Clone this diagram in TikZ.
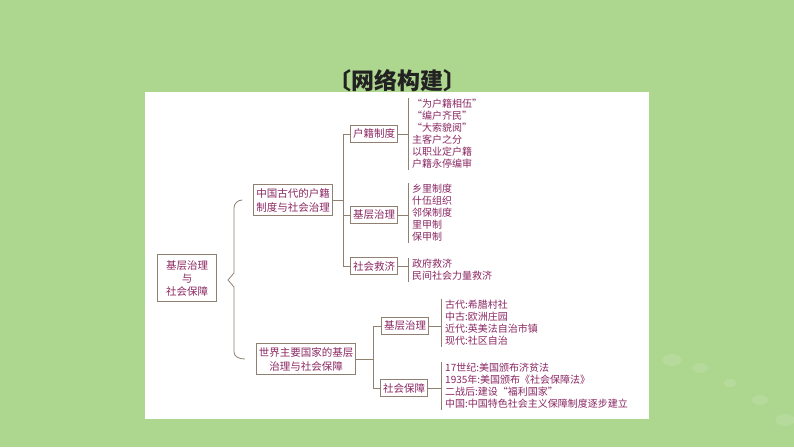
\documentclass[tikz,border=0pt]{standalone}
\usepackage{fontspec}
\setmainfont{Noto Sans CJK SC}
\usetikzlibrary{positioning}
\definecolor{bggreen}{HTML}{ADD68F}
\definecolor{plum}{HTML}{8A2762}
\definecolor{boxline}{HTML}{8F8072}
\definecolor{titlegray}{HTML}{222222}
\tikzset{
  mapbox/.style={draw=boxline, line width=0.8pt, fill=white, text=plum,
    font={\fontsize{10.5}{14}\selectfont}, inner xsep=2.5pt, inner ysep=3.5pt,
    minimum height=17pt, align=center},
  leaflist/.style={anchor=west, text=plum, font={\fontsize{10}{12}\selectfont},
    inner xsep=4pt, inner ysep=1pt, align=left},
  link/.style={draw=boxline, line width=0.8pt}
}

\begin{document}
\begin{tikzpicture}[x=1pt,y=-1pt]
% background and panel
\fill[bggreen] (0,0) rectangle (794,447);
\useasboundingbox (0,0) rectangle (794,447);
\fill[white] (145,92) rectangle (649,419);
\foreach \px/\py/\r in {672/360/6,700/368/5,730/383/4,760/400/5,785/420/6}
  \fill[white,opacity=0.12] (\px,\py) ellipse ({\r*1.6} and \r);
\node[text=titlegray, font={\fontsize{23}{23}\selectfont\bfseries}] (title) at (397,81) {〔网络构建〕};

% main boxes
\node[mapbox, minimum width=59pt, minimum height=47pt, font={\fontsize{10.5}{13}\selectfont}]
  (root) at (187,278) {基层治理\\与\\社会保障};
\node[mapbox] (cn) at (293,200) {中国古代的户籍\\制度与社会治理};
\node[mapbox] (world) at (306,359) {世界主要国家的基层\\治理与社会保障};

% brace
\coordinate (tip) at (228,280);
\draw[link] ([xshift=-11pt]cn.west) to[out=180,in=90] (234,208) -- (234,273)
  -- (tip) -- (234,287) -- (234,352) to[out=-90,in=180] ([xshift=-11pt]world.west);

% China branch
\node[mapbox] (hj) at (374,134) {户籍制度};
\node[mapbox] (jc) at (374,215) {基层治理};
\node[mapbox] (sj) at (374,266) {社会救济};
\coordinate (k1) at (343,200);
\draw[link] (cn) -- (k1);
\draw[link] (k1 |- hj) -- (k1 |- sj);
\draw[link] (k1 |- hj) -- (hj);
\draw[link] (k1 |- jc) -- (jc);
\draw[link] (k1 |- sj) -- (sj);

\node[leaflist] (hjlist) at (408,134) {“为户籍相伍”\\“编户齐民”\\“大索貌阅”\\主客户之分\\以职业定户籍\\户籍永停编审};
\node[leaflist] (jclist) at (408,213) {乡里制度\\什伍组织\\邻保制度\\里甲制\\保甲制};
\node[leaflist] (sjlist) at (408,270) {政府救济\\民间社会力量救济};

% world branch
\node[mapbox] (wjc) at (405,326) {基层治理};
\node[mapbox] (wsb) at (404,388) {社会保障};
\coordinate (k2) at (373,359);
\draw[link] (world) -- (k2);
\draw[link] (k2 |- wjc) -- (k2 |- wsb);
\draw[link] (k2 |- wjc) -- (wjc);
\draw[link] (k2 |- wsb) -- (wsb);

\node[leaflist] (wjclist) at (441,323) {古代:希腊村社\\中古:欧洲庄园\\近代:英美法自治市镇\\现代:社区自治};
\node[leaflist] (wsblist) at (441,386) {17世纪:美国颁布济贫法\\1935年:美国颁布《社会保障法》\\二战后:建设“福利国家”\\中国:中国特色社会主义保障制度逐步建立};

% list brackets
\foreach \b/\l in {hj/hjlist,jc/jclist,sj/sjlist,wjc/wjclist,wsb/wsblist}{
  \draw[link] (\b) -- (\b -| \l.west);
  \draw[link] (\l.north west) -- (\l.south west);
}
\end{tikzpicture}
\end{document}
